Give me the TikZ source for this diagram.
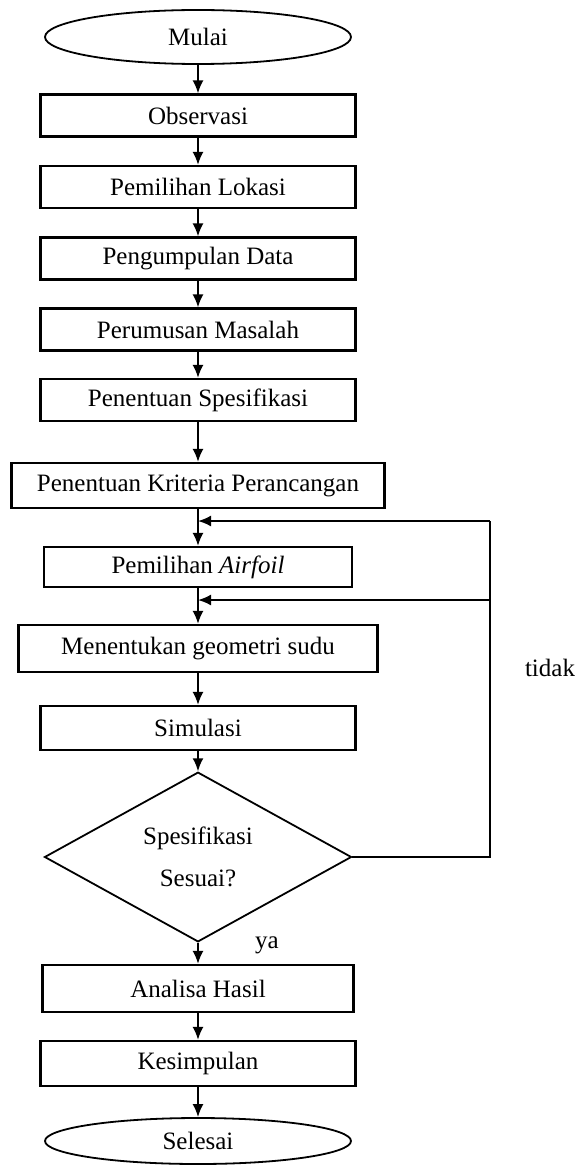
\documentclass[tikz,border=0pt]{standalone}
\usepackage{fontspec}
\setmainfont{Liberation Serif}
\usetikzlibrary{shapes.geometric,arrows.meta}
\begin{document}
\begin{tikzpicture}[x=1pt,y=-1pt,
  every node/.style={font=\fontsize{25}{30}\selectfont, inner sep=0pt},
  proc/.style={draw, line width=2.2pt, rectangle, minimum width=315pt, minimum height=42pt},
  term/.style={draw, line width=1.8pt, ellipse, minimum width=306pt, minimum height=54pt},
  dec/.style={draw, line width=1.8pt, diamond, minimum width=307pt, minimum height=154pt, align=center},
  arr/.style={line width=1.9pt, -{Latex[length=13pt,width=11pt]}},
  ln/.style={line width=1.9pt}]
\useasboundingbox (0,0) rectangle (576,1166);
\node[term] (mulai) at (198,37) {Mulai};
\node[proc] (obs) at (198,115.5) {Observasi};
\node[proc] (lok) at (198,187) {Pemilihan Lokasi};
\node[proc] (data) at (198,258.5) {Pengumpulan Data};
\node[proc] (mas) at (198,329.5) {Perumusan Masalah};
\node[proc] (spek) at (198,400) {Penentuan Spesifikasi};
\node[proc, minimum width=373pt, minimum height=45pt] (krit) at (198,485.5) {Penentuan Kriteria Perancangan};
\node[proc, minimum width=308pt, minimum height=40pt] (air) at (198,567) {Pemilihan \textit{Airfoil}};
\node[proc, minimum width=359pt, minimum height=47pt] (geo) at (198,648.5) {Menentukan geometri sudu};
\node[proc, minimum height=44pt] (sim) at (198,728) {Simulasi};
\node[dec] (cek) at (198,857) {Spesifikasi\\[12pt]Sesuai?};
\node[proc, minimum width=311pt, minimum height=47pt] (ana) at (198,988.5) {Analisa Hasil};
\node[proc, minimum height=45pt] (kes) at (198,1063.5) {Kesimpulan};
\node[term, minimum height=46pt] (sel) at (198,1141) {Selesai};
\node (tidak) at (550,668) {tidak};
\node (ya) at (267,945) {ya};
\coordinate (r1) at (490,857);
\coordinate (r2) at (490,521);
\coordinate (j1) at (198,521);
\coordinate (r3) at (490,600);
\coordinate (j2) at (198,600);
\draw[arr] (mulai.south) -- (obs.north);
\draw[arr] (obs.south) -- (lok.north);
\draw[arr] (lok.south) -- (data.north);
\draw[arr] (data.south) -- (mas.north);
\draw[arr] (mas.south) -- (spek.north);
\draw[arr] (spek.south) -- (krit.north);
\draw[arr] (krit.south) -- (air.north);
\draw[arr] (air.south) -- (geo.north);
\draw[arr] (geo.south) -- (sim.north);
\draw[arr] (sim.south) -- (cek.north);
\draw[arr] (cek.south) -- (ana.north);
\draw[arr] (ana.south) -- (kes.north);
\draw[arr] (kes.south) -- (sel.north);
\draw[ln] (cek.east) -- (r1) -- (r2);
\draw[arr] (r2) -- (j1);
\draw[arr] (r3) -- (j2);
\end{tikzpicture}
\end{document}
